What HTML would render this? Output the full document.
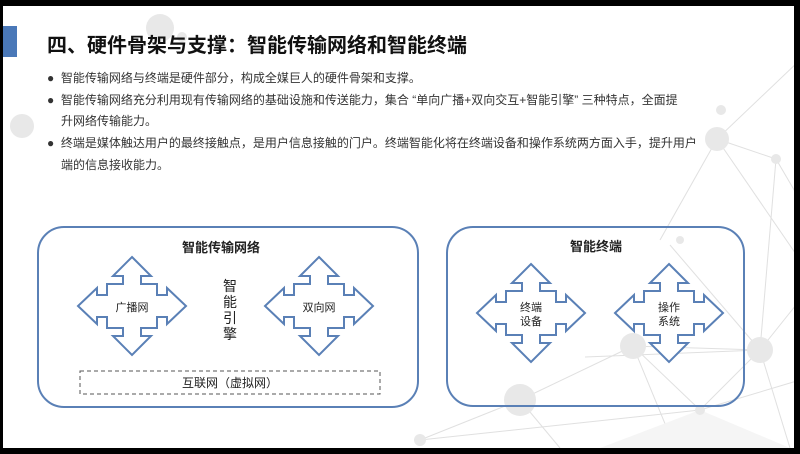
<!DOCTYPE html>
<html><head><meta charset="utf-8"><style>
html,body{margin:0;padding:0;}
body{width:800px;height:454px;background:#000;position:relative;overflow:hidden;font-family:"Liberation Sans","Noto Sans CJK SC",sans-serif;}
#pg{position:absolute;left:3px;top:6px;width:791px;height:442px;background:#fff;overflow:hidden;}
.t{position:absolute;white-space:nowrap;color:#222;}
</style></head><body>
<div id="pg">
<svg width="791" height="442" style="position:absolute;left:0;top:0" viewBox="3 6 791 442">
<g stroke="#e0e0e0" stroke-width="1" fill="none">
<line x1="717" y1="139" x2="800" y2="60"/><line x1="717" y1="139" x2="776" y2="159"/><line x1="717" y1="139" x2="660" y2="240"/>
<line x1="717" y1="139" x2="800" y2="260"/><line x1="776" y1="159" x2="760" y2="350"/><line x1="776" y1="159" x2="800" y2="200"/>
<line x1="760" y1="350" x2="633" y2="346"/><line x1="760" y1="350" x2="800" y2="300"/><line x1="760" y1="350" x2="790" y2="448"/>
<line x1="633" y1="346" x2="520" y2="400"/><line x1="633" y1="346" x2="675" y2="448"/><line x1="633" y1="346" x2="700" y2="410"/>
<line x1="520" y1="400" x2="420" y2="440"/><line x1="520" y1="400" x2="560" y2="448"/><line x1="700" y1="410" x2="800" y2="380"/>
<line x1="700" y1="410" x2="620" y2="448"/><line x1="420" y1="440" x2="700" y2="410"/><line x1="585" y1="357" x2="760" y2="350"/>
<line x1="760" y1="350" x2="700" y2="410"/><line x1="670" y1="245" x2="760" y2="350"/>
</g>
<polygon points="600,448 700,410 790,448" fill="#f5f5f5"/>
<g fill="#e8e8e8">
<circle cx="717" cy="139" r="12"/><circle cx="721" cy="110" r="5"/><circle cx="776" cy="159" r="5"/>
<circle cx="760" cy="350" r="13"/><circle cx="633" cy="346" r="13"/><circle cx="520" cy="400" r="16"/>
<circle cx="420" cy="440" r="6"/><circle cx="182" cy="37" r="5"/><circle cx="160" cy="28" r="14"/>
<circle cx="22" cy="126" r="12"/><circle cx="680" cy="240" r="4"/><circle cx="700" cy="410" r="5"/>
</g>
</svg>
</div>
<div style="position:absolute;left:3px;top:26px;width:14px;height:31px;background:#4a78b8"></div>
<div class="t" style="left:47px;top:29px;font-size:20px;font-weight:bold;color:#111">四、硬件骨架与支撑：智能传输网络和智能终端</div>
<div class="t" style="left:47px;top:68px;font-size:12px;line-height:21.7px;color:#333">
<div>●&nbsp; 智能传输网络与终端是硬件部分，构成全媒巨人的硬件骨架和支撑。</div>
<div>●&nbsp; 智能传输网络充分利用现有传输网络的基础设施和传送能力，集合 “单向广播+双向交互+智能引擎” 三种特点，全面提</div>
<div style="padding-left:14px">升网络传输能力。</div>
<div>●&nbsp; 终端是媒体触达用户的最终接触点，是用户信息接触的门户。终端智能化将在终端设备和操作系统两方面入手，提升用户</div>
<div style="padding-left:14px">端的信息接收能力。</div>
</div>
<svg width="800" height="454" style="position:absolute;left:0;top:0">
<defs>
<polygon id="qa" points="0,-49 19,-30 9,-30 9,-22 25,-22 25,-11 35,-11 35,-18 54,0 35,18 35,11 25,11 25,22 9,22 9,30 19,30 0,49 -19,30 -9,30 -9,22 -25,22 -25,11 -35,11 -35,18 -54,0 -35,-18 -35,-11 -25,-11 -25,-22 -9,-22 -9,-30 -19,-30" fill="#fff" stroke="#5a80b6" stroke-width="2"/>
</defs>
<rect x="38" y="227" width="380" height="180" rx="26" fill="none" stroke="#5a80b6" stroke-width="2"/>
<rect x="447" y="227" width="297" height="179" rx="26" fill="none" stroke="#5a80b6" stroke-width="2"/>
<use href="#qa" x="132" y="306"/>
<use href="#qa" x="319" y="306"/>
<use href="#qa" x="531" y="313"/>
<use href="#qa" x="669" y="313"/>
<rect x="80" y="371" width="300" height="23" fill="none" stroke="#555" stroke-width="1" stroke-dasharray="4,3"/>
<g font-family="Liberation Sans, Noto Sans CJK SC, sans-serif" fill="#222" text-anchor="middle">
<text x="221" y="252" font-size="13" font-weight="bold">智能传输网络</text>
<text x="596" y="251" font-size="13" font-weight="bold">智能终端</text>
<text x="132" y="311" font-size="11">广播网</text>
<text x="319" y="311" font-size="11">双向网</text>
<text x="531" y="311" font-size="11">终端</text>
<text x="531" y="325" font-size="11">设备</text>
<text x="669" y="311" font-size="11">操作</text>
<text x="669" y="325" font-size="11">系统</text>
<text x="230" y="291" font-size="14">智</text>
<text x="230" y="307" font-size="14">能</text>
<text x="230" y="323" font-size="14">引</text>
<text x="230" y="339" font-size="14">擎</text>
<text x="230" y="387" font-size="12">互联网（虚拟网）</text>
</g>
</svg>
</body></html>
